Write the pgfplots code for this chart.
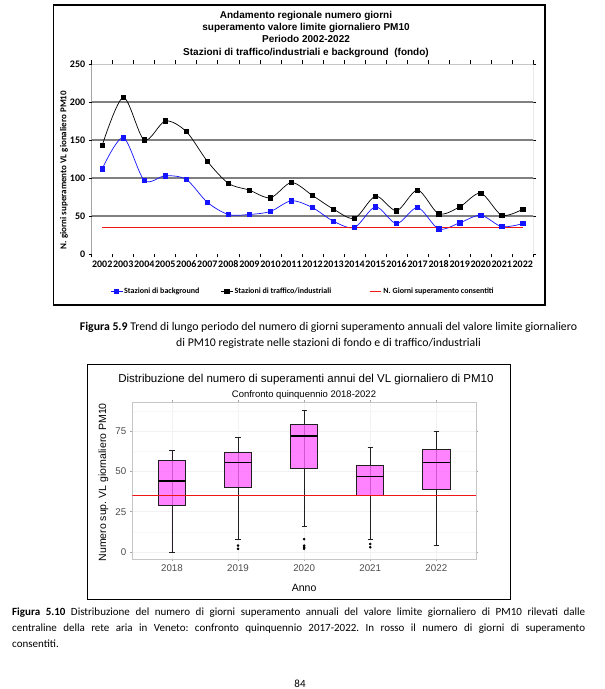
\documentclass[border=0pt]{standalone}
\usepackage{pgfplots}
\pgfplotsset{compat=1.18}
\usepgfplotslibrary{statistics}
\usepackage{fontspec}
\setmainfont{Liberation Sans}
\newfontfamily\calibri{Carlito}

\definecolor{bgblue}{RGB}{20,20,255}
\definecolor{gridgray}{RGB}{128,128,128}
\definecolor{boxpink}{RGB}{255,100,255}
\definecolor{txtgray}{RGB}{77,77,77}
\definecolor{limitred}{RGB}{240,20,20}

\begin{document}
\frenchspacing
\begin{tikzpicture}
\useasboundingbox[fill=white] (0,0) rectangle (605pt,689pt);

% ---- Figura 5.9 ----
\draw[line width=1.1pt] (53.3pt,684pt) rectangle (545pt,384pt);
\node[align=center, font=\bfseries\fontsize{10}{12.2}\selectfont] at (306pt,654.7pt)
  {Andamento regionale numero giorni\\superamento valore limite giornaliero PM10\\Periodo 2002-2022\\Stazioni di traffico/industriali e background\ \ (fondo)};

\begin{axis}[
  at={(91.7pt,435pt)}, anchor=south west,
  scale only axis, width=441.6pt, height=190pt,
  xmin=-0.5, xmax=20.5, ymin=0, ymax=250,
  axis line style={draw=none},
  /pgf/number format/assume math mode=true,
  xtick={0,...,20},
  xticklabels={2002,2003,2004,2005,2006,2007,2008,2009,2010,2011,2012,2013,2014,2015,2016,2017,2018,2019,2020,2021,2022},
  minor xtick={-0.5,0.5,...,20.5},
  ytick={0,50,...,250},
  tick align=outside,
  major tick length=3pt, minor tick length=3.5pt,
  major x tick style={draw=none},
  minor x tick style={black, line width=0.8pt},
  major y tick style={black, line width=0.8pt},
  extra y ticks={50,100,150,200}, extra y tick labels={},
  extra y tick style={grid=major, major tick length=0pt},
  major grid style={gridgray, line width=1.6pt},
  ticklabel style={font=\calibri\bfseries\fontsize{10}{12}\selectfont},
  xticklabel style={inner xsep=0pt},
  ylabel={N. giorni superamento VL gionaliero PM10},
  ylabel style={font=\calibri\bfseries\fontsize{9}{11}\selectfont, at={(axis description cs:-0.0627,0.442)}, anchor=center},
  legend columns=3,
  legend cell align=left,
  legend image code/.code={\draw[mark repeat=2,mark phase=2,#1] plot coordinates {(0pt,0pt) (5.8pt,0pt) (11.6pt,0pt)};},
  legend style={at={(0.478,-0.198)}, anchor=center, draw=none, fill=none,
    font=\calibri\bfseries\fontsize{8}{9.5}\selectfont,
    nodes={inner xsep=1.5pt, inner ysep=1pt},
    /tikz/column 2/.style={column sep=20pt},
    /tikz/column 4/.style={column sep=36pt}},
]
\addplot[bgblue, line width=0.7pt, smooth, tension=0.5, mark=square*, mark size=2.2pt, mark options={solid, fill=bgblue, draw=bgblue}] coordinates {
  (0,112) (1,153) (2,97) (3,103) (4,98) (5,68) (6,52) (7,52) (8,56) (9,70) (10,61)
  (11,43) (12,35) (13,62) (14,40) (15,61) (16,33) (17,41) (18,51) (19,36) (20,40)};
\addlegendentry{Stazioni di background}
\addplot[black, line width=0.7pt, smooth, tension=0.5, mark=square*, mark size=2.2pt, mark options={solid, fill=black}] coordinates {
  (0,143) (1,206) (2,150) (3,175) (4,161) (5,122) (6,93) (7,84) (8,74) (9,94) (10,77)
  (11,59) (12,47) (13,76) (14,57) (15,84) (16,53) (17,62) (18,80) (19,51) (20,59)};
\addlegendentry{Stazioni di traffico/industriali}
\addplot[limitred, line width=1.7pt, mark=none] coordinates {(0,35) (20,35)};
\addlegendentry{N. Giorni superamento consentiti}
\draw[gray!45, line width=0.6pt] (rel axis cs:0,1) -- (rel axis cs:1,1) -- (rel axis cs:1,0);
\draw[black, line width=0.8pt] (rel axis cs:0,1) -- (rel axis cs:0,0) -- (rel axis cs:1,0);
\end{axis}

\node[align=center, font=\calibri\fontsize{11.8}{16}\selectfont] at (328.5pt,353.5pt)
  {\textbf{Figura 5.9} Trend di lungo periodo del numero di giorni superamento annuali del valore limite giornaliero\\di PM10 registrate nelle stazioni di fondo e di traffico/industriali};

% ---- Figura 5.10 ----
\draw[line width=1pt] (87.3pt,324pt) rectangle (510pt,89pt);
\node[font=\fontsize{11.5}{13}\selectfont] at (306pt,309.7pt)
  {Distribuzione del numero di superamenti annui del VL giornaliero di PM10};
\node[font=\fontsize{9.5}{11}\selectfont] at (304pt,294pt) {Confronto quinquennio 2018-2022};

\begin{axis}[
  at={(132.3pt,130pt)}, anchor=south west,
  scale only axis, width=343.7pt, height=156.3pt,
  xmin=0.4, xmax=5.6, ymin=-4.3, ymax=92.6,
  axis line style={draw=gray!45, line width=0.8pt},
  /pgf/number format/assume math mode=true,
  xtick={1,...,5}, xticklabels={2018,2019,2020,2021,2022},
  ytick={0,25,50,75}, minor ytick={12.5,37.5,62.5,87.5},
  tick align=outside, major tick length=2.5pt, minor tick length=0pt,
  tick style={gray!70, line width=0.6pt},
  xmajorgrids, ymajorgrids, yminorgrids,
  major grid style={gray!10, line width=0.5pt},
  minor grid style={gray!6, line width=0.3pt},
  ticklabel style={font=\fontsize{9.75}{11}\selectfont, text=txtgray},
  xlabel={Anno},
  xlabel style={font=\fontsize{10.5}{12}\selectfont, at={(axis description cs:0.5,-0.1875)}, anchor=center},
  ylabel={Numero sup. VL giornaliero PM10},
  ylabel style={font=\fontsize{10.5}{12}\selectfont, at={(axis description cs:-0.0844,0.491)}, anchor=center},
  boxplot/draw direction=y,
  boxplot/box extend=0.41,
  boxplot/whisker extend=0.08,
]
\addplot[gray!25!black, line width=0.6pt] coordinates {(1,0) (1,63)};
\addplot[gray!25!black, line width=0.6pt] coordinates {(2,8) (2,71)};
\addplot[gray!25!black, line width=0.6pt] coordinates {(3,16) (3,88)};
\addplot[gray!25!black, line width=0.6pt] coordinates {(4,8) (4,65)};
\addplot[gray!25!black, line width=0.6pt] coordinates {(5,4) (5,75)};
\pgfplotsset{boxstyle/.style={draw=gray!25!black, fill=boxpink, fill opacity=0.8, line width=0.6pt,
  mark=*, mark size=1pt, mark options={black, fill=black, fill opacity=1},
  boxplot/every median/.style={black, line width=1.3pt}}}
\addplot[boxstyle, boxplot prepared={draw position=1, lower whisker=0, lower quartile=29, median=44, upper quartile=57, upper whisker=63}] coordinates {};
\addplot[boxstyle, boxplot prepared={draw position=2, lower whisker=8, lower quartile=40, median=55.5, upper quartile=62, upper whisker=71}] table[row sep=\\, y index=0] {y\\ 4\\ 2\\};
\addplot[boxstyle, boxplot prepared={draw position=3, lower whisker=16, lower quartile=52, median=72, upper quartile=79, upper whisker=88}] table[row sep=\\, y index=0] {y\\ 8\\ 4\\ 3\\ 2\\};
\addplot[boxstyle, boxplot prepared={draw position=4, lower whisker=8, lower quartile=35, median=47, upper quartile=54, upper whisker=65}] table[row sep=\\, y index=0] {y\\ 5\\ 3\\};
\addplot[boxstyle, boxplot prepared={draw position=5, lower whisker=4, lower quartile=39, median=55.5, upper quartile=63.5, upper whisker=75}] coordinates {};
\addplot[limitred, line width=1.2pt, mark=none] coordinates {(0.4,35) (5.6,35)};
\end{axis}

\node[anchor=north west, inner sep=0pt, text width=573pt, align=justify, font=\calibri\fontsize{11}{16}\selectfont] at (12pt,81pt)
  {\textbf{Figura 5.10} Distribuzione del numero di giorni superamento annuali del valore limite giornaliero di PM10 rilevati dalle\linebreak centraline della rete aria in Veneto: confronto quinquennio 2017-2022. In rosso il numero di giorni di superamento\linebreak consentiti.};
\node[font=\calibri\fontsize{11}{13}\selectfont] at (300pt,5pt) {84};
\end{tikzpicture}
\end{document}
